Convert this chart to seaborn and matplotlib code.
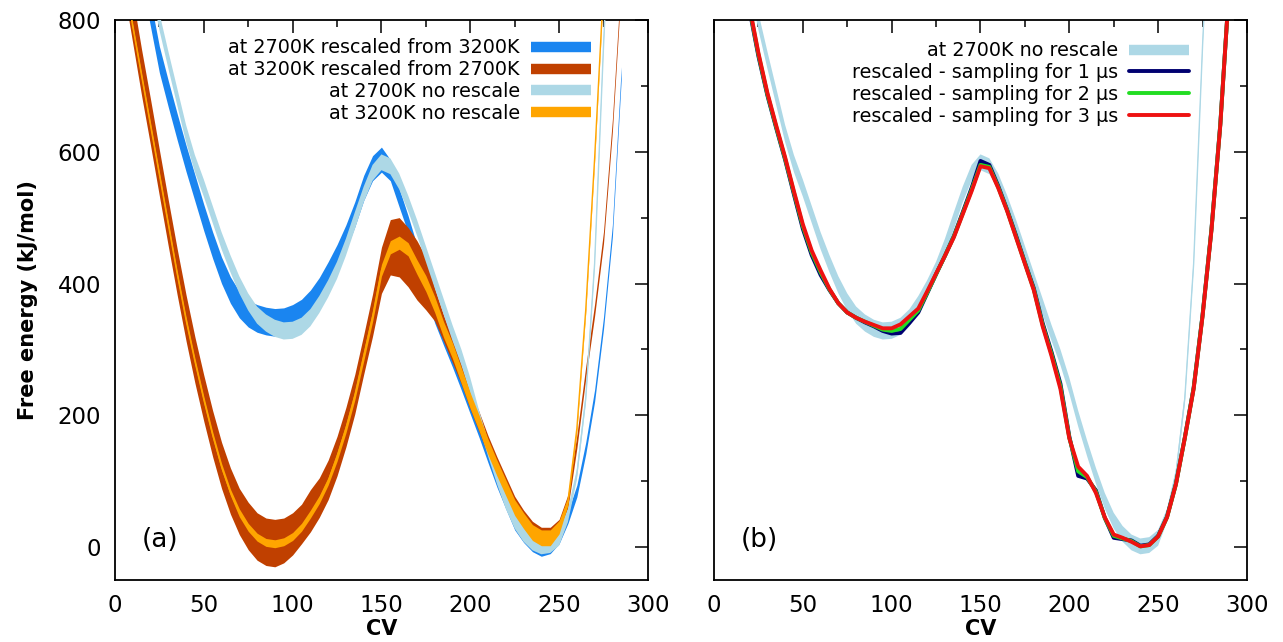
import matplotlib
matplotlib.use("Agg")
import matplotlib.pyplot as plt
import numpy as np
import pandas as pd
import seaborn as sns
from matplotlib.lines import Line2D
from matplotlib.ticker import MultipleLocator

nan = np.nan

# collective variable grid shared by every curve
cv = np.arange(5, 295, 5)

# (a) at 2700K no rescale (also shown in (b))
light_blue = [nan, nan, 940, 865, 798, 740, 684, 628, 582, 545,
              505, 465, 430, 398, 372, 352, 340, 332, 328, 329,
              335, 348, 368, 392, 420, 455, 495, 535, 568, 584,
              578, 555, 522, 485, 445, 405, 365, 325, 288, 245,
              195, 150, 108, 70, 40, 20, 7, 1, 3, 14,
              48, 110, 225, 430, 760, 1050, nan, nan]
light_blue_err = [13, 13, 13, 13, 13, 13, 13, 13, 13, 13,
                  13, 13, 13, 13, 13, 13, 13, 13, 13, 13,
                  13, 13, 13, 13, 13, 13, 13, 12, 12, 12,
                  12, 12, 12, 12, 12, 12, 12, 12, 12, 12,
                  12, 12, 12, 12, 12, 12, 12, 12, 12, 12,
                  10, 8, 8, 8, 8, 8, 8, 8]

# at 2700K rescaled from 3200K (noisy band)
blue = [nan, nan, 880, 810, 740, 688, 638, 590, 545, 500,
        458, 420, 390, 368, 354, 347, 343, 341, 342, 347,
        356, 370, 390, 414, 440, 470, 505, 545, 575, 588,
        572, 530, 490, 445, 395, 352, 318, 285, 250, 214,
        178, 140, 103, 70, 38, 18, 4, -4, 0, 15,
        45, 85, 150, 230, 340, 480, 720, nan]
blue_spread = [20, 20, 20, 20, 20, 20, 20, 20, 20, 20,
               20, 20, 20, 20, 20, 21, 21, 21, 21, 21,
               20, 20, 19, 19, 19, 19, 19, 19, 19, 19,
               16, 14, 13, 13, 13, 12, 12, 12, 12, 12,
               12, 12, 12, 12, 12, 11, 11, 10, 10, 10,
               9, 9, 9, 9, 9, 9, 9, 9]

# at 3200K no rescale
orange = [870, 790, 715, 640, 565, 490, 415, 345, 282, 224,
          170, 122, 83, 52, 30, 15, 7, 5, 8, 16,
          30, 50, 72, 100, 137, 180, 230, 290, 350, 420,
          455, 462, 452, 425, 400, 368, 330, 298, 260, 222,
          188, 152, 120, 90, 60, 40, 22, 14, 14, 30,
          70, 180, 360, 590, 850, nan, nan, nan]
orange_err = [5, 5, 5, 5, 5, 5, 5, 5, 5, 5,
              5, 5, 5, 6, 6, 6, 6, 6, 6, 6,
              6, 6, 6, 6, 7, 7, 7, 8, 8, 9,
              10, 10, 10, 11, 12, 12, 12, 12, 12, 12,
              12, 12, 12, 12, 12, 12, 12, 12, 12, 10,
              6, 5, 5, 5, 5, 5, 5, 5]

# at 3200K rescaled from 2700K (noisy band)
brown = [880, 800, 720, 645, 568, 492, 418, 348, 284, 226,
         172, 124, 85, 54, 32, 16, 8, 6, 10, 20,
         35, 55, 75, 102, 138, 182, 232, 292, 352, 420,
         455, 455, 440, 420, 400, 368, 332, 298, 262, 224,
         190, 154, 122, 92, 62, 42, 25, 18, 18, 30,
         70, 160, 265, 360, 470, 640, 860, nan]
brown_spread = [35, 35, 35, 35, 35, 35, 35, 35, 35, 35,
                35, 35, 35, 35, 36, 36, 36, 36, 34, 32,
                30, 32, 30, 30, 30, 30, 30, 30, 32, 35,
                42, 45, 45, 45, 40, 25, 20, 18, 15, 15,
                15, 15, 15, 15, 15, 14, 14, 12, 12, 12,
                10, 10, 9, 9, 9, 9, 9, 9]

# (b) rescaled curves for different sampling lengths
navy_1us = [nan, nan, nan, 815, 745, 686, 636, 588, 535, 483,
            443, 413, 390, 370, 356, 348, 341, 335, 328, 324,
            325, 340, 356, 385, 414, 442, 472, 508, 545, 586,
            580, 548, 512, 473, 432, 393, 340, 296, 248, 168,
            108, 104, 86, 44, 14, 12, 10, 2, 4, 17,
            46, 96, 166, 242, 352, 482, 642, 850]
green_2us = [nan, nan, nan, 818, 748, 688, 638, 590, 538, 487,
             447, 417, 391, 370, 356, 348, 342, 336, 330, 328,
             331, 345, 359, 386, 414, 442, 471, 506, 542, 580,
             577, 546, 511, 471, 431, 391, 337, 293, 244, 166,
             115, 106, 84, 44, 17, 13, 9, 1, 3, 16,
             45, 95, 165, 241, 351, 481, 641, 850]
red_3us = [nan, nan, nan, 820, 750, 690, 640, 592, 540, 490,
           450, 420, 392, 370, 356, 348, 342, 337, 332, 332,
           338, 350, 362, 388, 415, 442, 470, 505, 540, 578,
           575, 545, 510, 470, 430, 390, 335, 290, 240, 165,
           122, 108, 82, 45, 19, 14, 8, 1, 3, 16,
           45, 95, 165, 240, 350, 480, 640, 850]

labels_a = ["at 2700K rescaled from 3200K", "at 3200K rescaled from 2700K",
            "at 2700K no rescale", "at 3200K no rescale"]
labels_b = ["at 2700K no rescale", "rescaled - sampling for 1 \u00b5s",
            "rescaled - sampling for 2 \u00b5s", "rescaled - sampling for 3 \u00b5s"]

C_BLUE, C_BROWN, C_LIGHT, C_ORANGE = "#1a85f0", "#c04000", "#add8e6", "#ffa500"
C_NAVY, C_GREEN, C_RED = "#000070", "#22dd22", "#ee1111"

sns.set_style("white")
plt.rcParams["font.family"] = ["DejaVu Sans"]
plt.rcParams["axes.linewidth"] = 1.3
plt.rcParams["text.color"] = "black"
plt.rcParams["axes.labelcolor"] = "black"
plt.rcParams["xtick.color"] = "black"
plt.rcParams["ytick.color"] = "black"

df = pd.DataFrame({"cv": cv, "lb": light_blue, "lb_err": light_blue_err,
                   "blue": blue, "blue_s": blue_spread,
                   "orange": orange, "orange_err": orange_err,
                   "brown": brown, "brown_s": brown_spread,
                   "1 us": navy_1us, "2 us": green_2us, "3 us": red_3us})


def band(ax, center, half, color, zorder):
    lo = df[center] - df[half]
    hi = df[center] + df[half]
    ax.fill_between(df["cv"], lo, hi, color=color, lw=0, zorder=zorder)


def style_axes(ax, letter, show_ylabels):
    ax.set_xlim(0, 300)
    ax.set_ylim(-50, 800)
    ax.xaxis.set_major_locator(MultipleLocator(50))
    ax.xaxis.set_minor_locator(MultipleLocator(25))
    ax.yaxis.set_major_locator(MultipleLocator(200))
    ax.yaxis.set_minor_locator(MultipleLocator(100))
    ax.tick_params(which="both", direction="in", top=True, right=True,
                   width=1.1, colors="black", labelsize=16.5)
    ax.tick_params(which="major", length=9.5, pad=10)
    ax.tick_params(which="minor", length=5)
    ax.tick_params(axis="y", labelleft=show_ylabels)
    for s in ax.spines.values():
        s.set_color("black")
    ax.set_xlabel("CV", fontsize=15, fontweight="bold")
    ax.xaxis.set_label_coords(0.5, -0.07)
    ax.text(0.05, 0.072, letter, transform=ax.transAxes, fontsize=19,
            va="center", ha="left")


def right_legend(ax, handles, labels, anchor):
    leg = ax.legend(handles, labels, loc="upper right", bbox_to_anchor=anchor,
                    frameon=False, markerfirst=False, fontsize=13.8,
                    handlelength=3.1, handletextpad=0.6, labelspacing=0.15,
                    borderaxespad=0, borderpad=0)
    for col in leg._legend_handle_box.get_children():
        col.align = "right"
    return leg


fig = plt.figure(figsize=(12.83, 6.42), dpi=100)
ax_a = fig.add_axes([0.0896, 0.0966, 0.4154, 0.8723])
ax_b = fig.add_axes([0.5565, 0.0966, 0.4154, 0.8723])

# (a)
band(ax_a, "blue", "blue_s", C_BLUE, 1)
band(ax_a, "brown", "brown_s", C_BROWN, 2)
band(ax_a, "lb", "lb_err", C_LIGHT, 3)
sns.lineplot(data=df, x="cv", y="lb", ax=ax_a, color=C_LIGHT, lw=1,
             estimator=None, sort=False, zorder=3)
band(ax_a, "orange", "orange_err", C_ORANGE, 4)
sns.lineplot(data=df, x="cv", y="orange", ax=ax_a, color=C_ORANGE, lw=1,
             estimator=None, sort=False, zorder=4)

style_axes(ax_a, "(a)", True)
ax_a.set_ylabel("Free energy (kJ/mol)", fontsize=15, fontweight="bold")
ax_a.yaxis.set_label_coords(-0.145, 0.5)

handles_a = [Line2D([], [], color=c, lw=7.5, solid_capstyle="butt")
             for c in (C_BLUE, C_BROWN, C_LIGHT, C_ORANGE)]
right_legend(ax_a, handles_a, labels_a, (0.893, 0.967))

# (b)
band(ax_b, "lb", "lb_err", C_LIGHT, 1)
sns.lineplot(data=df, x="cv", y="lb", ax=ax_b, color=C_LIGHT, lw=1,
             estimator=None, sort=False, zorder=1)
long = df.melt(id_vars="cv", value_vars=["1 us", "2 us", "3 us"],
               var_name="run", value_name="F").dropna()
sns.lineplot(data=long, x="cv", y="F", hue="run", ax=ax_b, lw=2.8,
             palette=[C_NAVY, C_GREEN, C_RED], estimator=None, sort=False,
             legend=False, zorder=2)

style_axes(ax_b, "(b)", False)
ax_b.set_ylabel("")

handles_b = [Line2D([], [], color=C_LIGHT, lw=7.5, solid_capstyle="butt")] + \
            [Line2D([], [], color=c, lw=2.8) for c in (C_NAVY, C_GREEN, C_RED)]
right_legend(ax_b, handles_b, labels_b, (0.891, 0.962))

fig.savefig("out.png", dpi=100)
